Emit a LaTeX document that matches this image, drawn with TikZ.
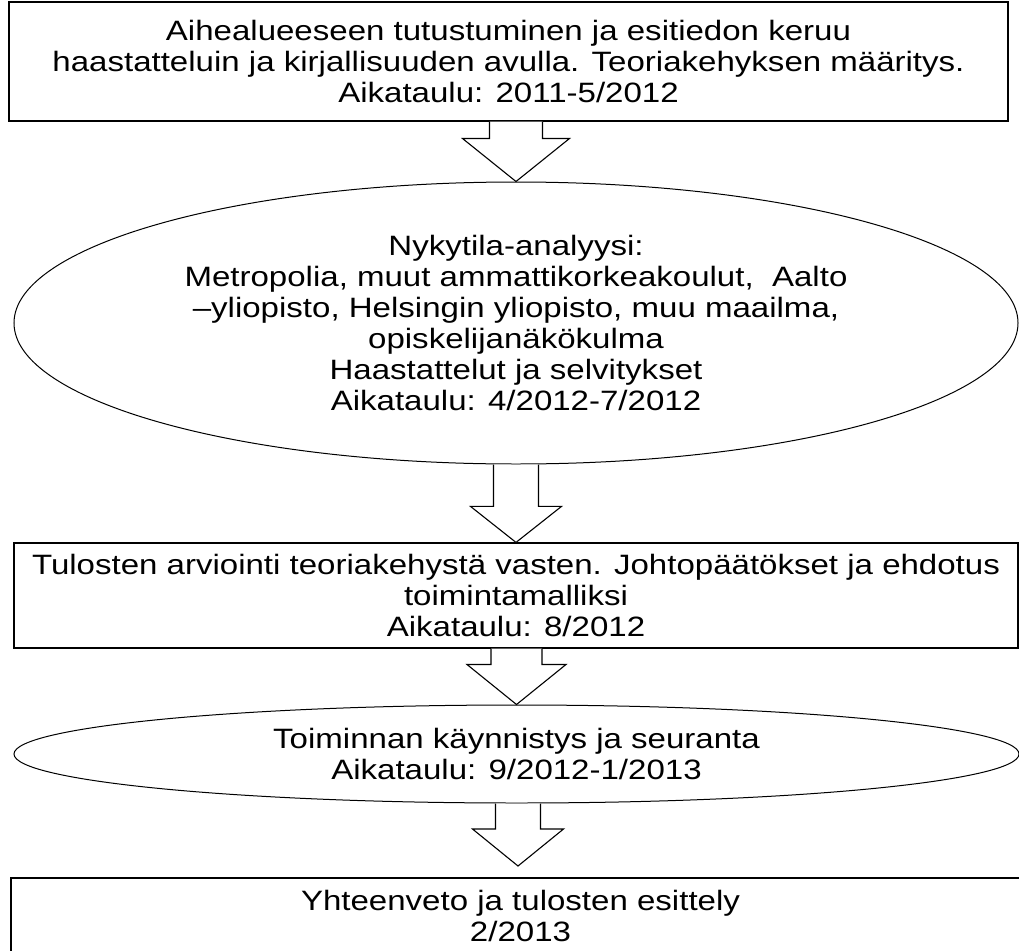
\documentclass[tikz,border=0pt]{standalone}
\usepackage{fontspec}
\setmainfont{Liberation Sans}[FakeStretch=1.18]
\usetikzlibrary{shapes.geometric,calc}
\tikzset{
  fase/.style    = {rectangle, draw, line width=1.2pt, inner sep=0, align=center, font=\fontsize{28}{31}\selectfont},
  ovale/.style   = {ellipse, draw, line width=1pt, inner sep=0, align=center, font=\fontsize{28}{31}\selectfont},
  freccia/.style = {draw, line width=1.1pt, line join=miter, fill=white}
}
\newcommand{\passo}[5]{%
  \path[freccia] let \p1 = (#1), \p2 = (#2) in
    (\x2-#3pt,\y1) -- (\x2-#3pt,\y2+#5pt) -- (\x2-#4pt,\y2+#5pt) -- (\p2)
    -- (\x2+#4pt,\y2+#5pt) -- (\x2+#3pt,\y2+#5pt) -- (\x2+#3pt,\y1);}

\begin{document}
\begin{tikzpicture}[x=1pt,y=-1pt]
  \clip (0,0) rectangle (1019,950);
  \fill[white] (0,0) rectangle (1019,950);
  \node[fase, minimum width=999pt, minimum height=119pt] (b1) at (508.5,61.5)
    {Aihealueeseen tutustuminen ja esitiedon keruu\\haastatteluin ja kirjallisuuden avulla. Teoriakehyksen määritys.\\Aikataulu: 2011-5/2012};
  \node[ovale, minimum width=1004pt, minimum height=282pt] (e1) at (516,323)
    {Nykytila-analyysi:\\Metropolia, muut ammattikorkeakoulut, \ Aalto\\–yliopisto, Helsingin yliopisto, muu maailma,\\opiskelijanäkökulma\\Haastattelut ja selvitykset\\Aikataulu: 4/2012-7/2012};
  \node[fase, minimum width=1004pt, minimum height=105pt] (b3) at (516,595.5)
    {Tulosten arviointi teoriakehystä vasten. Johtopäätökset ja ehdotus\\toimintamalliksi\\Aikataulu: 8/2012};
  \node[ovale, minimum width=1005pt, minimum height=98pt] (e2) at (516.5,754)
    {Toiminnan käynnistys ja seuranta\\Aikataulu: 9/2012-1/2013};
  \node[fase, minimum width=1019pt, minimum height=76pt] (b5) at (520.5,916)
    {Yhteenveto ja tulosten esittely\\2/2013};
  \coordinate (t4) at (518,866);

  \passo{b1.south}{e1.north}{26.5}{53.5}{43}
  \passo{e1.south}{b3.north}{22.5}{45.5}{36}
  \passo{b3.south}{e2.north}{25.5}{49.5}{40}
  \passo{e2.south}{t4}{22.5}{45.5}{37}
\end{tikzpicture}
\end{document}
